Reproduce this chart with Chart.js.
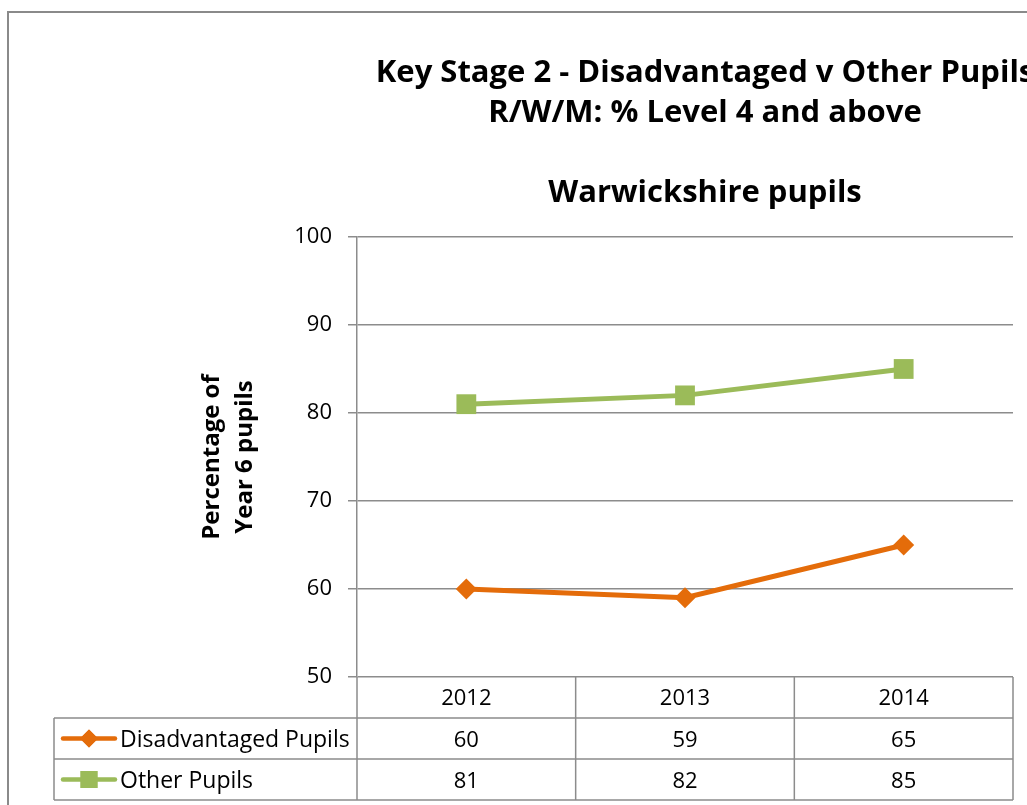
<!DOCTYPE html>
<html>
<head>
<meta charset="utf-8">
<title>Key Stage 2 - Disadvantaged v Other Pupils</title>
<script src="https://cdn.jsdelivr.net/npm/chart.js@4/dist/chart.umd.min.js"></script>
<style>
  html, body { margin: 0; padding: 0; overflow: hidden; background: #fff; }
  #wrap { position: absolute; left: 7px; top: 11px; border: 2px solid #8a8a8a; width: 1392px; height: 800px; }
  canvas { display: block; }
</style>
</head>
<body>
<div id="wrap"><canvas id="myChart" width="1392" height="800"></canvas></div>
<script>
var years = ['2012', '2013', '2014'];
var disadvantagedPupils = [60, 59, 65];
var otherPupils = [81, 82, 85];
var seriesNames = ['Disadvantaged Pupils', 'Other Pupils'];
var titleLines = ['Key Stage 2 - Disadvantaged v Other Pupils', 'R/W/M: % Level 4 and above'];
var subTitle = 'Warwickshire pupils';
var yTitle = ['Percentage of', 'Year 6 pupils'];

var orange = '#e46c0a';
var green = '#9bbb59';
var gridGrey = '#8c8c8c';
var fontFamily = '"Open Sans", Lato, sans-serif';

// draws the data table under the plot, the way Excel does it
var dataTable = {
    id: 'dataTable',
    afterDraw: function (chart) {
        var ctx = chart.ctx;
        var area = chart.chartArea;
        var x = chart.scales.x;
        var rowH = 41;
        var tableLeft = 45;
        var colW = x.width / years.length;
        var top = area.bottom;
        var bottom = top + rowH * 3;

        ctx.save();
        ctx.strokeStyle = gridGrey;
        ctx.lineWidth = 1.5;
        ctx.beginPath();
        // vertical lines
        for (var i = 0; i <= years.length; i++) {
            var vx = area.left + i * colW;
            ctx.moveTo(vx, top);
            ctx.lineTo(vx, bottom);
        }
        ctx.moveTo(tableLeft, top + rowH);
        ctx.lineTo(tableLeft, bottom);
        // horizontal lines
        ctx.moveTo(tableLeft, top + rowH);
        ctx.lineTo(area.right, top + rowH);
        ctx.moveTo(tableLeft, top + rowH * 2);
        ctx.lineTo(area.right, top + rowH * 2);
        ctx.moveTo(tableLeft, bottom);
        ctx.lineTo(area.right, bottom);
        ctx.stroke();

        var rows = [
            { name: seriesNames[0], values: disadvantagedPupils, color: orange, style: 'rectRot', r: 9 },
            { name: seriesNames[1], values: otherPupils, color: green, style: 'rect', r: 12 }
        ];
        ctx.textBaseline = 'middle';
        rows.forEach(function (row, k) {
            var cy = top + rowH * (k + 1) + rowH / 2;
            // legend key
            ctx.strokeStyle = row.color;
            ctx.lineWidth = 4.5;
            ctx.lineCap = 'round';
            ctx.beginPath();
            ctx.moveTo(54, cy);
            ctx.lineTo(106, cy);
            ctx.stroke();
            ctx.fillStyle = row.color;
            Chart.helpers.drawPoint(ctx, { pointStyle: row.style, radius: row.r, borderWidth: 0 }, 80, cy);
            ctx.fill();
            ctx.fillStyle = '#000';
            ctx.textAlign = 'left';
            ctx.font = '23px ' + fontFamily;
            ctx.fillText(row.name, 111, cy + 2);
            ctx.textAlign = 'center';
            ctx.font = '22px ' + fontFamily;
            row.values.forEach(function (v, j) {
                ctx.fillText(String(v), x.getPixelForValue(j), cy + 2);
            });
        });
        ctx.restore();
    }
};

new Chart('myChart', {
    type: 'line',
    data: {
        labels: years,
        datasets: [{
            label: seriesNames[0],
            data: disadvantagedPupils,
            borderColor: orange,
            backgroundColor: orange,
            borderWidth: 5,
            pointStyle: 'rectRot',
            pointRadius: 10.5,
            pointBorderWidth: 0,
            tension: 0
        }, {
            label: seriesNames[1],
            data: otherPupils,
            borderColor: green,
            backgroundColor: green,
            borderWidth: 5,
            pointStyle: 'rect',
            pointRadius: 14,
            pointBorderWidth: 0,
            tension: 0
        }]
    },
    options: {
        responsive: false,
        animation: false,
        devicePixelRatio: 1,
        layout: { padding: 0 },
        plugins: {
            legend: { display: false },
            tooltip: { enabled: false },
            title: {
                display: true,
                text: titleLines,
                color: '#000',
                font: { family: fontFamily, size: 31, weight: 'bold', lineHeight: 1.29 },
                padding: { top: 40, bottom: 0 }
            },
            subtitle: {
                display: true,
                text: subTitle,
                color: '#000',
                font: { family: fontFamily, size: 31, weight: 'bold', lineHeight: 1.29 },
                padding: { top: 40, bottom: 24 }
            }
        },
        scales: {
            x: {
                offset: true,
                grid: { display: false, drawTicks: false },
                border: { display: false },
                ticks: { color: '#000', font: { family: fontFamily, size: 22 }, padding: 9 },
                afterFit: function (s) { s.height = 136; }
            },
            y: {
                min: 50,
                max: 100,
                ticks: { stepSize: 10, color: '#000', font: { family: fontFamily, size: 22 }, padding: 16 },
                grid: { color: gridGrey, lineWidth: 1.5, tickLength: 9 },
                border: { color: gridGrey, width: 1.5 },
                title: {
                    display: true,
                    text: yTitle,
                    color: '#000',
                    font: { family: fontFamily, size: 24, weight: 'bold', lineHeight: 1.4 },
                    padding: { top: 186, bottom: 0 }
                },
                afterFit: function (s) { s.width = 348; }
            },
            // empty right axis, only keeps the plot where the original has it
            spacer: {
                type: 'linear',
                position: 'right',
                grid: { display: false },
                border: { display: false },
                ticks: { display: false },
                afterFit: function (s) { s.width = 388; }
            }
        }
    },
    plugins: [dataTable]
});
</script>
</body>
</html>
